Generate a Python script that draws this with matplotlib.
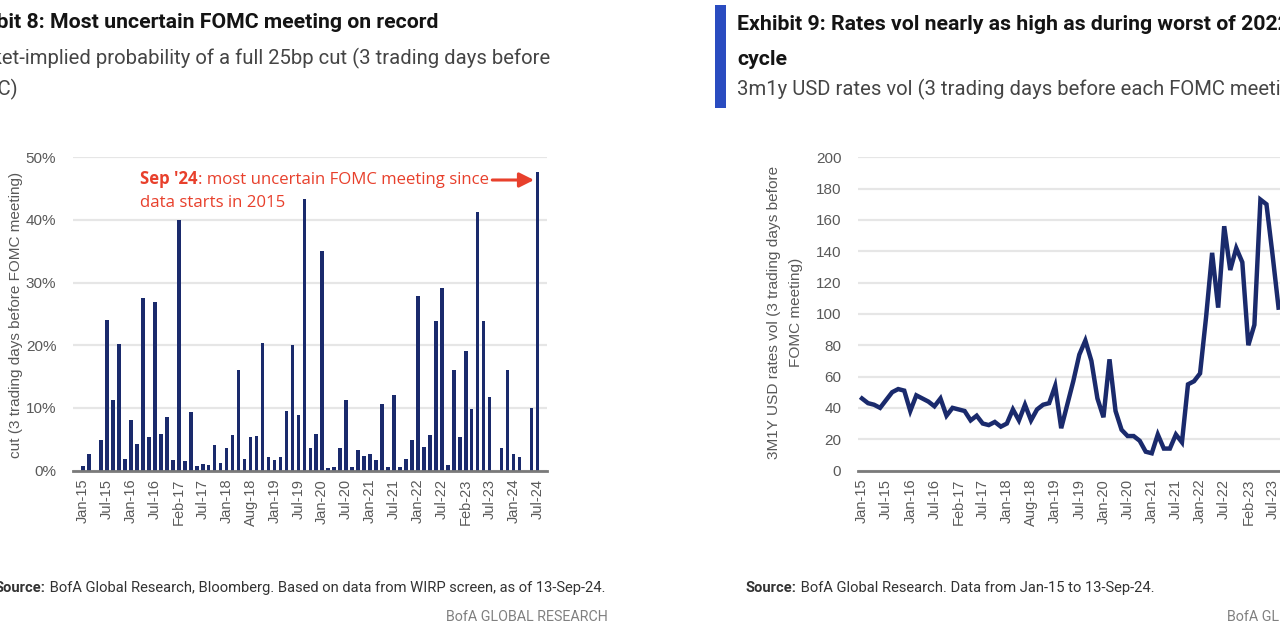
import matplotlib
matplotlib.use('Agg')
import matplotlib.pyplot as plt

# FOMC meetings Jan-15 .. Sep-24, one category each
tick_labels = ['Jan-15', 'Jul-15', 'Jan-16', 'Jul-16', 'Feb-17', 'Jul-17', 'Jan-18',
               'Aug-18', 'Jan-19', 'Jul-19', 'Jan-20', 'Jul-20', 'Jan-21', 'Jul-21',
               'Jan-22', 'Jul-22', 'Feb-23', 'Jul-23', 'Jan-24', 'Jul-24']
tick_step = 4

# Exhibit 8: probability of a full 25bp cut, %
cut_prob = [0.7, 2.7, 0, 4.9, 24.1, 11.2, 20.2, 1.9, 8.1, 4.3,
            27.5, 5.3, 26.9, 5.9, 8.6, 1.6, 40.0, 1.5, 9.4, 0.7,
            1.1, 0.9, 4.1, 1.2, 3.6, 5.6, 16.0, 1.8, 5.4, 5.5,
            20.4, 2.1, 1.7, 2.1, 9.5, 20.0, 8.8, 43.4, 3.6, 5.9,
            35.0, 0.4, 0.5, 3.6, 11.2, 0.5, 3.3, 2.3, 2.7, 1.6,
            10.6, 0.5, 12.0, 0.5, 1.8, 4.8, 27.8, 3.8, 5.6, 23.9,
            29.2, 0.9, 16.0, 5.3, 19.1, 9.8, 41.3, 23.8, 11.8, 0,
            3.6, 16.0, 2.7, 2.1, 0, 10.0, 47.6]

# Exhibit 9: 3m1y USD rates vol (visible part of the series)
rates_vol = [46, 43, 42, 40, 45, 50, 52, 51, 38, 48,
             46, 44, 41, 46, 35, 40, 39, 38, 32, 35,
             30, 29, 31, 28, 30, 39, 32, 42, 32, 39,
             42, 43, 54, 27, 42, 57, 74, 83, 70, 46,
             34, 71, 38, 26, 22, 22, 19, 12, 11, 23,
             14, 14, 23, 18, 55, 57, 62, 98, 139, 104,
             156, 128, 142, 133, 80, 93, 173, 170, 138, 104]

navy = '#1a2a6c'
red = '#e8402c'
grid_c = '#e6e6e6'
axis_c = '#7a7a7a'
tick_c = '#595959'

head_font = ['Roboto', 'Liberation Sans', 'DejaVu Sans']
note_font = ['Open Sans', 'DejaVu Sans']
plt.rcParams['font.family'] = ['Liberation Sans', 'DejaVu Sans']

W, H = 1280, 640
fig = plt.figure(figsize=(12.8, 6.4), dpi=100)
renderer = fig.canvas.get_renderer()


def fx(x):
    return x / W


def fy(y):
    return 1 - y / H


def measure(s, size, weight, family):
    t = fig.text(0, 0, s, fontsize=size, fontweight=weight, family=family)
    w = t.get_window_extent(renderer).width
    t.remove()
    return w


def fit(s, target, weight, family, base=14):
    # font size that makes s about target pixels wide
    return base * target / measure(s, base, weight, family)


def text_run(x, y, parts, size, color, family):
    # parts: (string, weight) pairs on one shared baseline; y is the visual middle
    base = y + 0.36 * size * 100 / 72
    for s, wt in parts:
        t = fig.text(fx(x), fy(base), s, fontsize=size, color=color, family=family,
                     fontweight=wt, va='baseline', ha='left')
        x = t.get_window_extent(renderer).x1
    return x


def run_width(parts, size, family):
    return sum(measure(s, size, wt, family) for s, wt in parts)


def style_axes(ax):
    for s in ['top', 'right', 'left']:
        ax.spines[s].set_visible(False)
    ax.spines['bottom'].set_color(axis_c)
    ax.spines['bottom'].set_linewidth(2)
    ax.yaxis.grid(True, color=grid_c, lw=1.6)
    ax.set_axisbelow(True)
    ax.tick_params(axis='both', length=0, colors=tick_c)
    ax.tick_params(axis='y', pad=12, labelsize=11)
    ax.tick_params(axis='x', pad=6, labelsize=10.5)
    ticks = list(range(0, len(tick_labels) * tick_step, tick_step))
    ax.set_xticks(ticks)
    ax.set_xticklabels(tick_labels, rotation=90)


# sizes fitted to the widths seen in the reference
title_size = fit('Exhibit 9: Rates vol nearly as high as during worst of 202', 543, 'bold', head_font)
sub_size = fit('3m1y USD rates vol (3 trading days before each FOMC meet', 541, 'normal', head_font)
src_right = [('Source:', 'bold'), (' BofA Global Research. Data from Jan-15 to 13-Sep-24.', 'normal')]
src_size = 14 * 411 / run_width(src_right, 14, head_font)
brand_size = fit('BofA GLOBAL RESEARCH', 163, 'normal', head_font)
note1 = [("Sep '24", 'bold'), (': most uncertain FOMC meeting since', 'normal')]
note_size = 14 * 352 / run_width(note1, 14, note_font)

# ---- Exhibit 8 (left) ----
ax1 = fig.add_axes([fx(73), fy(470.5), fx(547 - 73), (470.5 - 157.3) / H])
x1 = list(range(len(cut_prob)))
ax1.bar(x1, cut_prob, width=0.6, color=navy)
ax1.set_ylim(0, 50)
ax1.set_yticks(range(0, 51, 10))
ax1.set_yticklabels([f'{v}%' for v in range(0, 51, 10)])
ax1.set_xlim(-1.7, len(cut_prob) + 0.6)
style_axes(ax1)

fig.text(fx(5), fy(315), 'Market-implied probability of a full 25bp\ncut (3 trading days before FOMC meeting)',
         rotation=90, ha='center', va='center', multialignment='center',
         fontsize=11, color=tick_c, linespacing=1.75)

# annotation with arrow to the latest meeting
ann_end = text_run(140, 178, note1, note_size, red, note_font)
text_run(140, 201, [('data starts in 2015', 'normal')], note_size, red, note_font)
inv = ax1.transData.inverted()
tail = inv.transform((ann_end + 1, H - 180))
ax1.annotate('', xy=(len(cut_prob) - 1.1, tail[1]), xytext=(tail[0], tail[1]),
             arrowprops=dict(arrowstyle='-|>', color=red, lw=2.2, mutation_scale=22),
             annotation_clip=False)

# ---- Exhibit 9 (right) ----
ax2 = fig.add_axes([fx(858), fy(470.5), fx(1322 - 858), (470.5 - 157.3) / H])
x2 = list(range(len(rates_vol)))
ax2.plot(x2, rates_vol, color=navy, lw=3.2, solid_joinstyle='miter')
ax2.set_ylim(0, 200)
ax2.set_yticks(range(0, 201, 20))
ax2.set_xlim(-0.66, len(cut_prob) - 0.8)
style_axes(ax2)

fig.text(fx(785), fy(312), '3M1Y USD rates vol (3 trading days before\nFOMC meeting)',
         rotation=90, ha='center', va='center', multialignment='center',
         fontsize=11.1, color=tick_c, linespacing=1.75)

# ---- headers ----
left_title = 'Exhibit 8: Most uncertain FOMC meeting on record'
x_left = 444 - measure(left_title, title_size, 'bold', head_font) - 6
text_run(x_left, 20, [(left_title, 'bold')], title_size, '#141414', head_font)
text_run(x_left, 57, [('Market-implied probability of a full 25bp cut (3 trading days before', 'normal')],
         sub_size, '#454545', head_font)
text_run(x_left, 88, [('FOMC)', 'normal')], sub_size, '#454545', head_font)

fig.add_artist(plt.Rectangle((fx(715), fy(108)), fx(11), 103 / H, transform=fig.transFigure,
                             color='#2a4cc0', lw=0))
text_run(737, 22, [('Exhibit 9: Rates vol nearly as high as during worst of 2022 hiking', 'bold')],
         title_size, '#141414', head_font)
text_run(737, 57, [('cycle', 'bold')], title_size, '#141414', head_font)
text_run(737, 88, [('3m1y USD rates vol (3 trading days before each FOMC meeting)', 'normal')],
         sub_size, '#454545', head_font)

# ---- footers ----
src_left = [('Source:', 'bold'),
            (' BofA Global Research, Bloomberg. Based on data from WIRP screen, as of 13-Sep-24.', 'normal')]
text_run(605 - run_width(src_left, src_size, head_font), 587, src_left, src_size, '#333333', head_font)
text_run(746, 587, src_right, src_size, '#333333', head_font)
text_run(608 - measure('BofA GLOBAL RESEARCH', brand_size, 'normal', head_font), 616,
         [('BofA GLOBAL RESEARCH', 'normal')], brand_size, '#808080', head_font)
text_run(1227, 616, [('BofA GLOBAL RESEARCH', 'normal')], brand_size, '#808080', head_font)

fig.savefig('out.png', dpi=100)
